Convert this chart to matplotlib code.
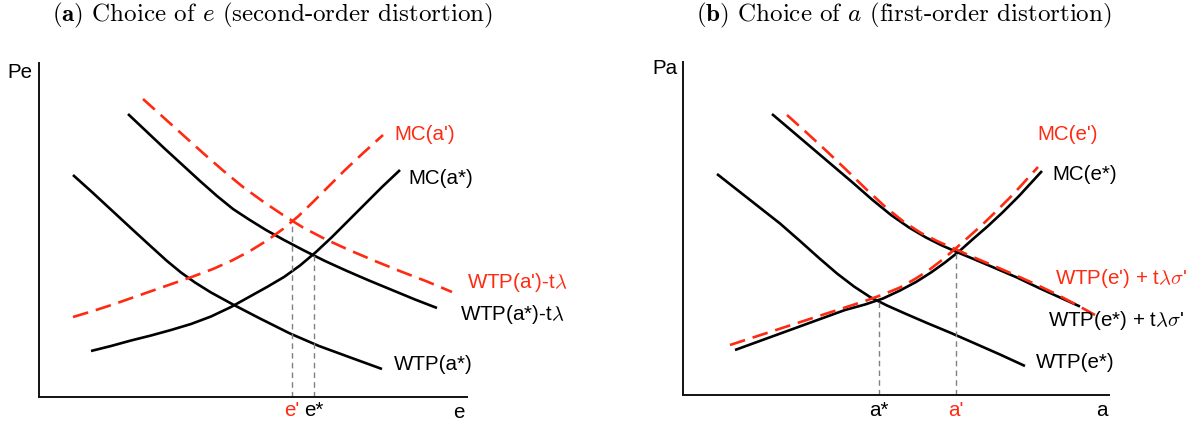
import matplotlib
matplotlib.use("Agg")
import matplotlib.pyplot as plt

plt.rcParams['mathtext.fontset'] = 'cm'

RED = '#ff2a12'
BLACK = '#000000'
GREY = '#808080'

# ---------------- Panel (a): choice of e ----------------
wtp_a_star_x = [34, 54, 74, 94, 112, 128, 142, 156, 172, 194, 220, 251, 280, 310, 343]
wtp_a_star_y = [222, 204, 185.5, 167, 150.5, 136, 124.5, 114.5, 104.5, 92.5, 79, 63.5, 51, 40, 28]

wtp_a_star_tl_x = [89, 107, 125, 143, 161, 178, 194, 210, 227, 245, 265, 286, 308, 330, 353, 376, 398]
wtp_a_star_tl_y = [283, 266, 249, 232.5, 216, 201, 188, 177.5, 167, 157, 146.5, 136, 126, 116.5, 107, 97.5, 89]

wtp_a_prime_tl_x = [104, 124, 144, 164, 184, 204, 224, 244, 264, 286, 310, 336, 362, 388, 413]
wtp_a_prime_tl_y = [298, 280, 262, 244, 226.5, 210, 195.5, 182, 169.5, 158, 147, 136, 125.5, 115.5, 105]

mc_a_star_x = [52, 72, 92, 112, 132, 152, 172, 192, 210, 228, 245, 261, 277, 293, 309, 326, 343, 361]
mc_a_star_y = [46, 51, 56.5, 61.5, 67, 73, 80.5, 90, 100, 110, 120, 131.5, 145, 160, 176, 193, 210, 227]

mc_a_prime_x = [34, 54, 74, 94, 114, 134, 154, 174, 193, 211, 228, 244, 259, 274, 289, 305, 322, 344]
mc_a_prime_y = [80, 86, 92.5, 99.5, 106.5, 113.5, 120.5, 128, 136.5, 146, 156.5, 168, 180.5, 195, 210, 226, 242, 262]

eq_a_x = [253, 275]          # e', e*
eq_a_y = [175.5, 142]
eq_a_labels = ["e'", "e*"]
eq_a_colors = [RED, BLACK]

# ---------------- Panel (b): choice of a ----------------
wtp_e_star_x = [34, 55, 76, 97, 117, 136, 154, 171, 187, 204, 222, 244, 268, 292, 317, 342]
wtp_e_star_y = [221, 204.5, 188, 171.5, 154, 137, 121.5, 108.5, 98, 89.5, 81.5, 72, 62, 51.5, 40.5, 29]

wtp_e_star_tls_x = [89, 109, 129, 149, 169, 189, 208, 226, 243, 259, 275, 293, 313, 334, 356, 377, 397]
wtp_e_star_tls_y = [281, 264, 247, 230, 213, 195.5, 180, 167.5, 157.5, 149.5, 142.5, 135, 126.5, 117.5, 107, 97.5, 88.5]

wtp_e_prime_tls_x = [104, 124, 144, 164, 184, 203, 221, 238, 255, 272, 290, 310, 331, 352, 372, 392, 412]
wtp_e_prime_tls_y = [280, 262, 243.5, 224.5, 205, 187.5, 173, 162, 153.5, 146, 138, 129.5, 120.5, 111, 101.5, 91, 80]

mc_e_star_x = [52, 74, 96, 118, 140, 162, 182, 200, 217, 233, 248, 262, 276, 290, 305, 320, 336, 359]
mc_e_star_y = [45, 53, 61, 69, 77, 85, 90.5, 96.5, 104.5, 113, 122.5, 132.5, 143.5, 156, 169, 183, 199, 224]

mc_e_prime_x = [47, 70, 93, 116, 139, 162, 182, 200, 217, 232, 246, 259, 272, 285, 299, 314, 330, 355]
mc_e_prime_y = [50, 57.5, 65, 72.5, 80, 87.5, 94, 100.5, 107.5, 116, 125, 135, 146, 157.5, 170, 184.5, 200.5, 228]

eq_b_x = [196, 273]          # a*, a'
eq_b_y = [95, 143]
eq_b_labels = ["a*", "a'"]
eq_b_colors = [BLACK, RED]

W, H = 1202, 429
fig = plt.figure(figsize=(W / 100, H / 100), dpi=100)

LW = 1.9
DASH = (6, 3)
LABEL_FS = 14.8

sans = 'Liberation Sans'


def setup(ax, xmax, ymax):
    ax.set_xlim(0, xmax)
    ax.set_ylim(0, ymax)
    for s in ('top', 'right'):
        ax.spines[s].set_visible(False)
    for s in ('left', 'bottom'):
        ax.spines[s].set_linewidth(1.4)
        ax.spines[s].set_color('#111111')
    ax.set_xticks([])
    ax.set_yticks([])
    ax.patch.set_alpha(0)


def txt(ax, x, y, s, color=BLACK, ha='left'):
    ax.text(x, y, s, color=color, ha=ha, va='center', fontsize=LABEL_FS,
            family=sans, clip_on=False)


def solid(ax, x, y):
    ax.plot(x, y, color=BLACK, lw=LW, solid_capstyle='butt', solid_joinstyle='round')


def dashed(ax, x, y):
    ax.plot(x, y, color=RED, lw=LW, dashes=DASH, dash_joinstyle='round')


# Panel (a)
axa = fig.add_axes([39 / W, (H - 397) / H, 428 / W, 334 / H])
setup(axa, 428, 334)
solid(axa, wtp_a_star_x, wtp_a_star_y)
solid(axa, wtp_a_star_tl_x, wtp_a_star_tl_y)
solid(axa, mc_a_star_x, mc_a_star_y)
dashed(axa, wtp_a_prime_tl_x, wtp_a_prime_tl_y)
dashed(axa, mc_a_prime_x, mc_a_prime_y)
axa.vlines(eq_a_x, 0, eq_a_y, colors=GREY, lw=1.0, linestyles=(0, (4, 3)))
for x, lab, c in zip(eq_a_x, eq_a_labels, eq_a_colors):
    txt(axa, x, -14, lab, color=c, ha='center')
txt(axa, 355, 262, "MC(a')", RED)
txt(axa, 369, 219, "MC(a*)")
txt(axa, 428, 115, r"WTP(a')-t$\lambda$", RED)
txt(axa, 421, 82, r"WTP(a*)-t$\lambda$")
txt(axa, 355, 32, "WTP(a*)")
txt(axa, 420, -15, "e", ha='center')
txt(axa, -19, 325, "Pe", ha='center')

# Panel (b)
axb = fig.add_axes([683 / W, (H - 395) / H, 426 / W, 333 / H])
setup(axb, 426, 333)
solid(axb, wtp_e_star_x, wtp_e_star_y)
solid(axb, wtp_e_star_tls_x, wtp_e_star_tls_y)
solid(axb, mc_e_star_x, mc_e_star_y)
dashed(axb, wtp_e_prime_tls_x, wtp_e_prime_tls_y)
dashed(axb, mc_e_prime_x, mc_e_prime_y)
axb.vlines(eq_b_x, 0, eq_b_y, colors=GREY, lw=1.0, linestyles=(0, (4, 3)))
for x, lab, c in zip(eq_b_x, eq_b_labels, eq_b_colors):
    txt(axb, x, -16, lab, color=c, ha='center')
txt(axb, 354, 260, "MC(e')", RED)
txt(axb, 369, 220, "MC(e*)")
txt(axb, 372, 117, r"WTP(e') + t$\lambda\sigma$'", RED)
txt(axb, 365, 75, r"WTP(e*) + t$\lambda\sigma$'")
txt(axb, 353, 32, "WTP(e*)")
txt(axb, 419, -16, "a", ha='center')
txt(axb, -18, 326, "Pa", ha='center')

# Titles
fig.text(272 / W, 1 - 15 / H, r"$\mathbf{(a)}$ Choice of $e$ (second-order distortion)",
         family='cmr10', fontsize=18, ha='center', va='center')
fig.text(904 / W, 1 - 15 / H, r"$\mathbf{(b)}$ Choice of $a$ (first-order distortion)",
         family='cmr10', fontsize=18, ha='center', va='center')

fig.savefig('out.png', dpi=100)
